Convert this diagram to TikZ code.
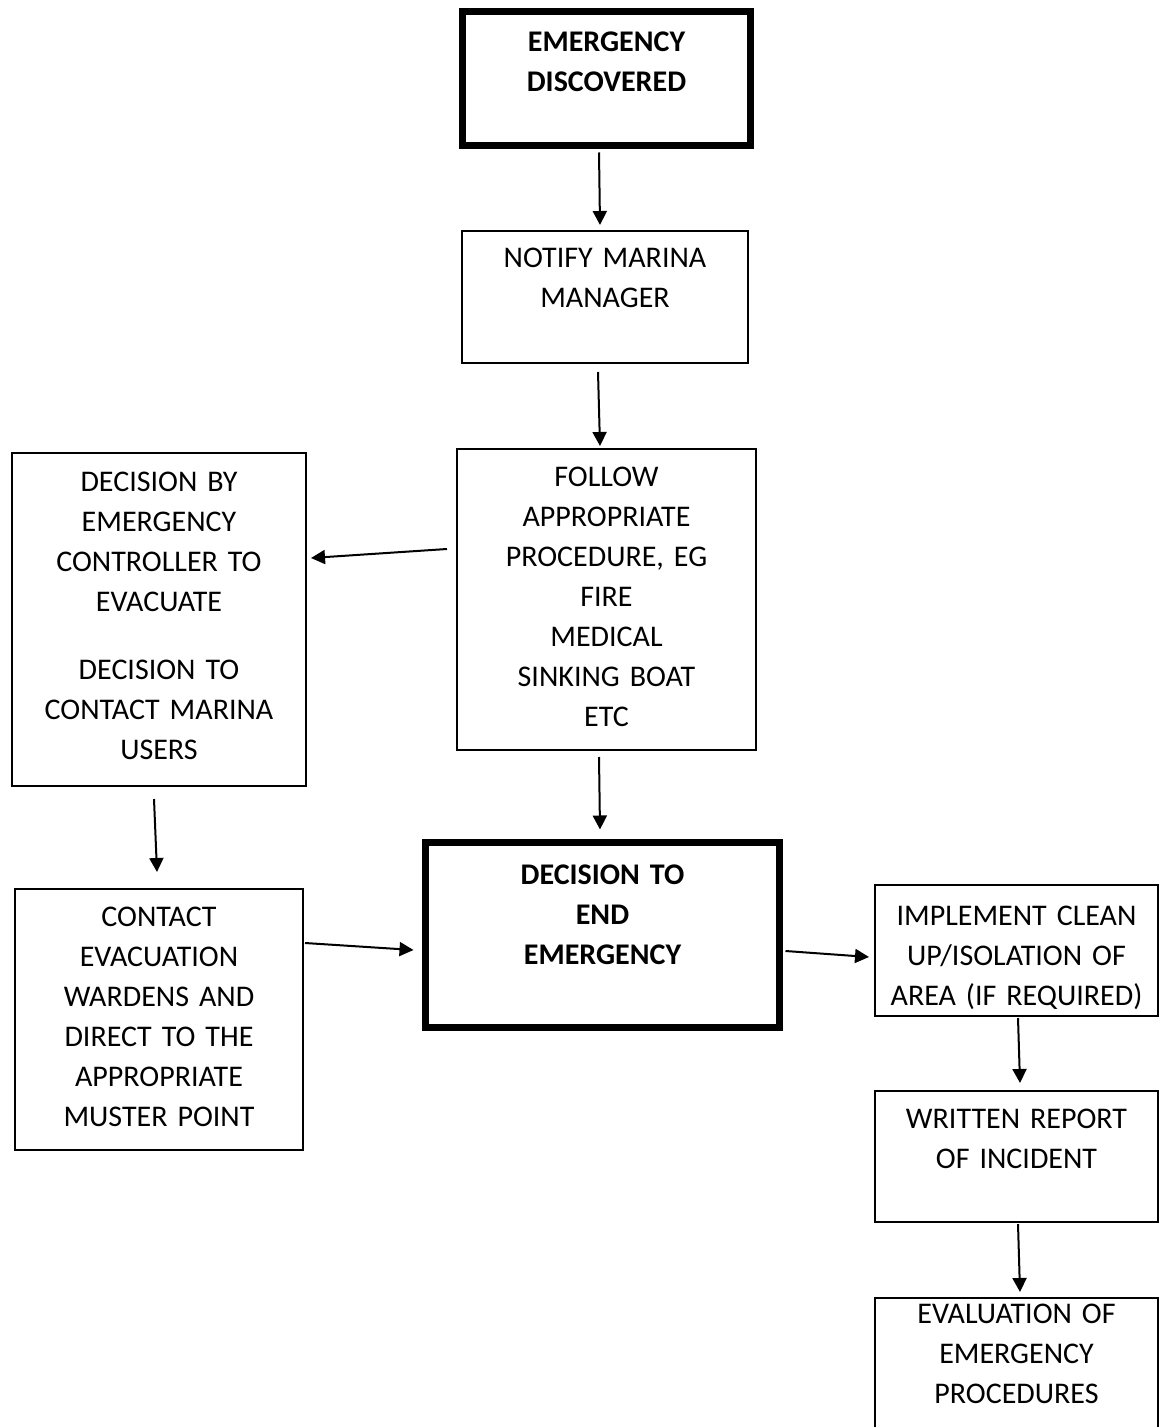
\documentclass[tikz,border=0pt]{standalone}
\usepackage{fontspec}
\setmainfont{Carlito}
\usetikzlibrary{positioning, calc, arrows.meta}
\newcommand{\flowfont}{\fontsize{15pt}{20pt}\selectfont}
\tikzset{
    flowbox/.style={rectangle, draw=black, line width=1pt, inner sep=0pt, align=center, font=\flowfont},
    keybox/.style={flowbox, line width=3.5pt, font=\flowfont\bfseries},
    arrow/.style={-{Triangle[length=7pt, width=7pt]}, line width=1pt},
}
\begin{document}
\begin{tikzpicture}[x=0.5pt, y=-0.5pt]
    \useasboundingbox (0,0) rectangle (1158,1427);
    % boxes
    \node[keybox, text width=144pt, text height=20.25pt, text depth=46.75pt] (discovered) at (606.5,78.5) {EMERGENCY\\DISCOVERED};
    \node[flowbox, text width=143pt, text height=18.5pt, text depth=47.5pt] (notify) at (605,297) {NOTIFY MARINA\\MANAGER};
    \node[flowbox, text width=149.5pt, text height=18.5pt, text depth=132pt] (follow) at (606.5,599.5) {FOLLOW\\APPROPRIATE\\PROCEDURE, EG\\FIRE\\MEDICAL\\SINKING BOAT\\ETC};
    \node[flowbox, text width=147pt, text height=19pt, text depth=147.5pt] (decision) at (159,619.5) {DECISION BY\\EMERGENCY\\CONTROLLER TO\\EVACUATE\\[14pt]DECISION TO\\CONTACT MARINA\\USERS};
    \node[flowbox, text width=144pt, text height=18.5pt, text depth=112pt] (contact) at (159,1019.5) {CONTACT\\EVACUATION\\WARDENS AND\\DIRECT TO THE\\APPROPRIATE\\MUSTER POINT};
    \node[keybox, text width=177pt, text height=20.75pt, text depth=71.75pt] (endem) at (602.5,935) {DECISION TO\\END\\EMERGENCY};
    \node[flowbox, text width=141.5pt, text height=20pt, text depth=45.5pt] (implement) at (1016.5,950.5) {IMPLEMENT CLEAN\\UP/ISOLATION OF\\AREA (IF REQUIRED)};
    \node[flowbox, text width=141.5pt, text height=18.5pt, text depth=47pt] (written) at (1016.5,1156.5) {WRITTEN REPORT\\OF INCIDENT};
    \node[flowbox, text width=141.5pt, text height=12.5pt, text depth=58.5pt] (evaluation) at (1016.5,1369) {EVALUATION OF\\EMERGENCY\\PROCEDURES};
    % connectors
    \draw[arrow] ($(discovered.south)+(-7.5,3.5)$) -- ($(notify.north)+(-5,-5)$);
    \draw[arrow] ($(notify.south)+(-7,8)$) -- ($(follow.north)+(-6.5,-2)$);
    \draw[arrow] ($(follow.west)+(-9,-50.5)$) -- ($(decision.east)+(4,-61.5)$);
    \draw[arrow] ($(follow.south)+(-7.5,6)$) -- ($(endem.north)+(-2.5,-9.5)$);
    \draw[arrow] ($(decision.south)+(-5,12)$) -- ($(contact.north)+(-2,-16)$);
    \draw[arrow] ($(contact.east)+(1,-76.5)$) -- ($(endem.west)+(-8.5,15)$);
    \draw[arrow] ($(endem.east)+(2.5,16)$) -- ($(implement.west)+(-5,6.5)$);
    \draw[arrow] ($(implement.south)+(1.5,1)$) -- ($(written.north)+(3.5,-7)$);
    \draw[arrow] ($(written.south)+(1.5,1)$) -- ($(evaluation.north)+(3.5,-5)$);
\end{tikzpicture}
\end{document}
